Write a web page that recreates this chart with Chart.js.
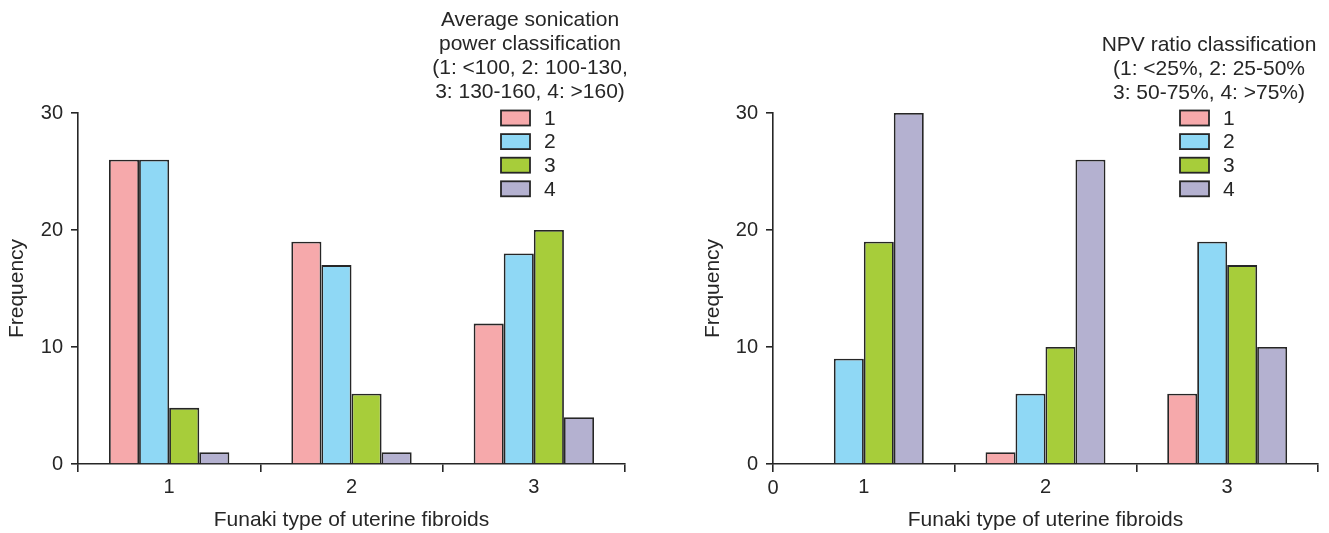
<!DOCTYPE html>
<html>
<head>
<meta charset="utf-8">
<script src="https://cdn.jsdelivr.net/npm/chart.js@4/dist/chart.umd.min.js"></script>
<style>
body{margin:0;background:#fff;}
.box{position:absolute;top:0;height:533px;}
#b1{left:0;width:665px;}
#b2{left:665px;width:664px;}
</style>
</head>
<body>
<div class="box" id="b1"><canvas id="c1"></canvas></div>
<div class="box" id="b2"><canvas id="c2"></canvas></div>
<script>
const TYPES = ["1","2","3"];
const CLASSES = ["1","2","3","4"];
const COLORS = ["#f6a9ab","#8fd8f5","#a7cd3a","#b4b1d0"];
const Y_TICKS = [0,10,20,30];

// left: average sonication power class, per Funaki type
const POWER_1 = [26,19,12];
const POWER_2 = [26,17,18];
const POWER_3 = [4.8,6,20];
const POWER_4 = [1,1,4];

// right: NPV ratio class, per Funaki type
const NPV_1 = [0,1,6];
const NPV_2 = [9,6,19];
const NPV_3 = [19,10,17];
const NPV_4 = [30,26,10];

const POWER_TITLE = ["Average sonication","power classification","(1: <100, 2: 100-130,","3: 130-160, 4: >160)"];
const NPV_TITLE = ["NPV ratio classification","(1: <25%, 2: 25-50%","3: 50-75%, 4: >75%)"];

const FONT = "'Liberation Sans', Arial, sans-serif";
const INK = "#262626";
Chart.defaults.font.family = FONT;
Chart.defaults.color = INK;

const sideLegend = {
  id:"sideLegend",
  afterDraw(chart,args,o){
    const ctx=chart.ctx;
    ctx.save();
    ctx.font="21px "+FONT;
    ctx.fillStyle=INK;
    ctx.textBaseline="middle";
    ctx.textAlign="center";
    o.title.forEach((t,i)=>ctx.fillText(t,o.cx,o.titleY+i*24));
    ctx.textAlign="left";
    chart.data.datasets.forEach((ds,i)=>{
      const y=o.itemY+i*23.6;
      ctx.fillStyle=ds.backgroundColor;
      ctx.fillRect(o.boxX,y-7.5,29,15);
      ctx.strokeStyle=INK; ctx.lineWidth=1.8;
      ctx.strokeRect(o.boxX,y-7.5,29,15);
      ctx.fillStyle=INK;
      ctx.fillText(ds.label,o.boxX+43,y+1);
    });
    if(o.zero){
      ctx.font="20px "+FONT;
      ctx.textAlign="center";
      ctx.fillText("0",chart.scales.x.left,chart.chartArea.bottom+24);
    }
    ctx.restore();
  }
};

function makeChart(id,series,legend,yWidth,titlePad,rightPad){
  const datasets=series.map((d,i)=>({
    label:CLASSES[i],
    data:d,
    backgroundColor:COLORS[i],
    borderColor:INK,
    borderWidth:1.8,
    categoryPercentage:0.66,
    barPercentage:1
  }));
  return new Chart(document.getElementById(id),{
    type:"bar",
    data:{labels:TYPES,datasets},
    plugins:[sideLegend],
    options:{
      responsive:true,
      maintainAspectRatio:false,
      animation:false,
      layout:{padding:{top:113,right:rightPad,bottom:0,left:0}},
      plugins:{legend:{display:false},tooltip:{enabled:false},sideLegend:legend},
      scales:{
        x:{
          z:1,
          grid:{drawOnChartArea:false,drawTicks:true,tickLength:8,color:INK,lineWidth:1.6,offset:true},
          border:{color:INK,width:1.6},
          ticks:{font:{size:20},color:INK,padding:3},
          title:{display:true,text:"Funaki type of uterine fibroids",font:{size:21},color:INK,padding:{top:0,bottom:0}},
          afterFit:s=>{s.height=69;}
        },
        y:{
          z:1,
          min:0,max:30,
          afterBuildTicks:s=>{s.ticks=Y_TICKS.map(v=>({value:v}));},
          grid:{drawOnChartArea:false,drawTicks:true,tickLength:7,color:INK,lineWidth:1.6},
          border:{color:INK,width:1.6},
          ticks:{font:{size:20},color:INK,padding:8},
          title:{display:true,text:"Frequency",font:{size:21},color:INK,padding:{top:titlePad,bottom:0}},
          afterFit:s=>{s.width=yWidth;}
        }
      }
    }
  });
}

makeChart("c1",[POWER_1,POWER_2,POWER_3,POWER_4],
  {title:POWER_TITLE,cx:530,titleY:20,boxX:501,itemY:118,zero:false},78,5,40);
makeChart("c2",[NPV_1,NPV_2,NPV_3,NPV_4],
  {title:NPV_TITLE,cx:544,titleY:45,boxX:515,itemY:118,zero:true},108,36,11);
</script>
</body>
</html>
